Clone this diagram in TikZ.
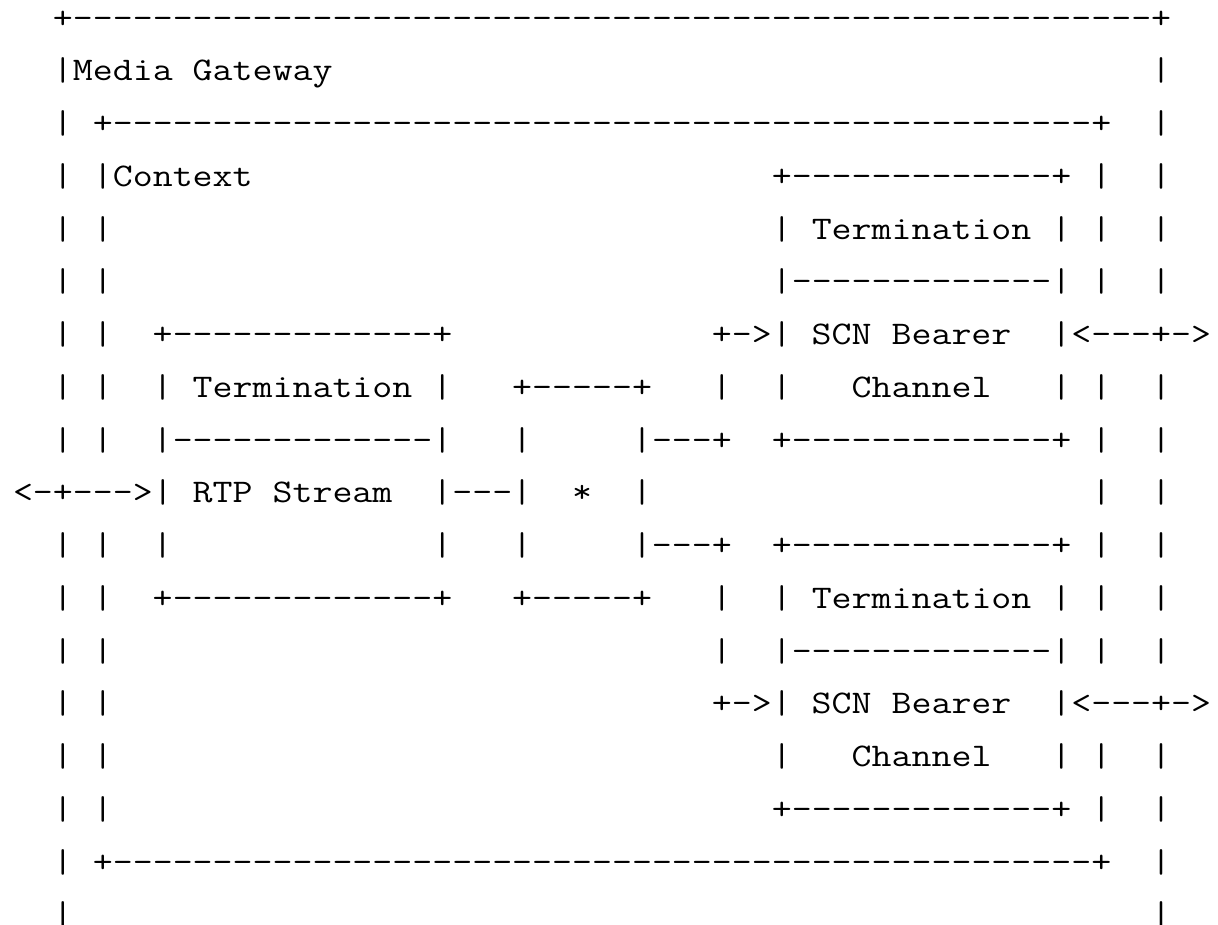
\documentclass[tikz,border=0pt]{standalone}
\usepackage{fontspec}
\usepackage{graphicx}
\newcommand\rep[2]{\ifnum#1>0 #2\expandafter\rep\expandafter{\the\numexpr#1-1\relax}{#2}\fi}
\newcommand\ascii[1]{\scalebox{1.175}[1]{#1}}
\tikzset{
  rowtxt/.style={anchor=base west, inner sep=0pt, outer sep=0pt,
    font=\ttfamily\fontsize{33}{40}\selectfont, text=black}
}
\begin{document}
\begin{tikzpicture}[x=1pt,y=1pt]
\useasboundingbox (0,0) rectangle (1218,925);
\clip (0,0) rectangle (1218,925);
\fill[white] (0,0) rectangle (1218,925);
\node[rowtxt] (r0)  at (13,896.75) {\ascii{~~+\rep{54}{-}+}};
\node[rowtxt] (r1)  at (13,844.00) {\ascii{~~|Media Gateway\rep{41}{~}|}};
\node[rowtxt] (r2)  at (13,791.25) {\ascii{~~|~+\rep{49}{-}+~~|}};
\node[rowtxt] (r3)  at (13,738.50) {\ascii{~~|~|Context\rep{26}{~}+\rep{13}{-}+~|~~|}};
\node[rowtxt] (r4)  at (13,685.75) {\ascii{~~|~|\rep{33}{~}|~Termination~|~|~~|}};
\node[rowtxt] (r5)  at (13,633.00) {\ascii{~~|~|\rep{33}{~}|\rep{13}{-}|~|~~|}};
\node[rowtxt] (r6)  at (13,580.25) {\ascii{~~|~|~~+\rep{13}{-}+\rep{13}{~}+->|~SCN Bearer~~|<\rep{3}{-}+->}};
\node[rowtxt] (r7)  at (13,527.50) {\ascii{~~|~|~~|~Termination~|~~~+\rep{5}{-}+~~~|~~|~~~Channel~~~|~|~~|}};
\node[rowtxt] (r8)  at (13,474.75) {\ascii{~~|~|~~|\rep{13}{-}|~~~|~~~~~|\rep{3}{-}+~~+\rep{13}{-}+~|~~|}};
\node[rowtxt] (r9)  at (13,422.00) {\ascii{<-+\rep{3}{-}>|~RTP Stream~~|\rep{3}{-}|~~*~~|\rep{22}{~}|~~|}};
\node[rowtxt] (r10) at (13,369.25) {\ascii{~~|~|~~|\rep{13}{~}|~~~|~~~~~|\rep{3}{-}+~~+\rep{13}{-}+~|~~|}};
\node[rowtxt] (r11) at (13,316.50) {\ascii{~~|~|~~+\rep{13}{-}+~~~+\rep{5}{-}+~~~|~~|~Termination~|~|~~|}};
\node[rowtxt] (r12) at (13,263.75) {\ascii{~~|~|\rep{30}{~}|~~|\rep{13}{-}|~|~~|}};
\node[rowtxt] (r13) at (13,211.00) {\ascii{~~|~|\rep{30}{~}+->|~SCN Bearer~~|<\rep{3}{-}+->}};
\node[rowtxt] (r14) at (13,158.25) {\ascii{~~|~|\rep{33}{~}|~~~Channel~~~|~|~~|}};
\node[rowtxt] (r15) at (13,105.50) {\ascii{~~|~|\rep{33}{~}+\rep{13}{-}+~|~~|}};
\node[rowtxt] (r16) at (13,52.75)  {\ascii{~~|~+\rep{49}{-}+~~|}};
\node[rowtxt] (r17) at (13,0.00)   {\ascii{~~|\rep{54}{~}|}};
\end{tikzpicture}
\end{document}
